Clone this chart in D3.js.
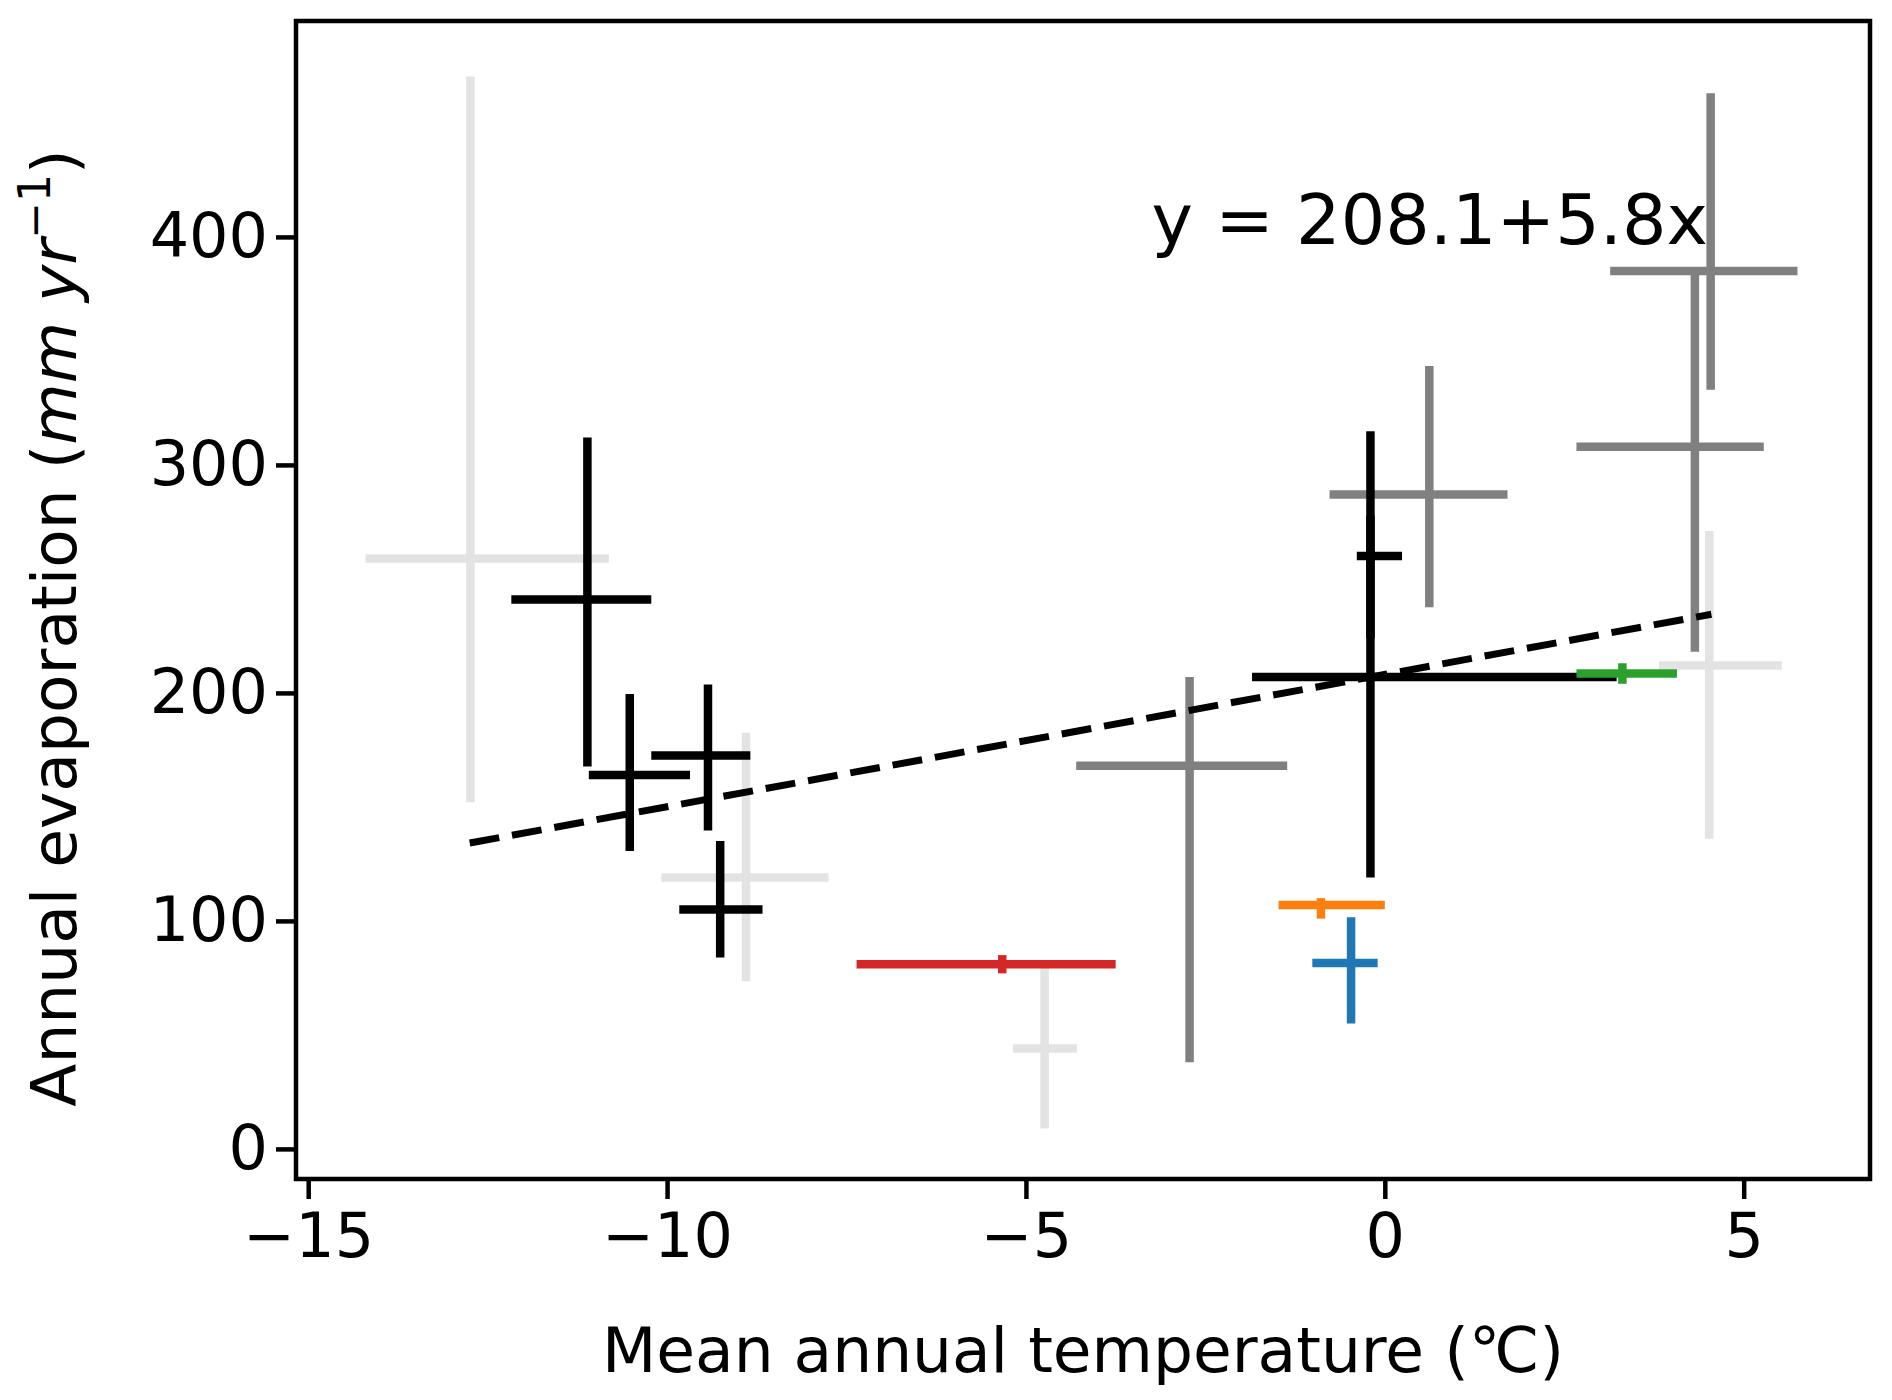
<!DOCTYPE html>
<html><head><meta charset="utf-8">
<script src="https://cdn.jsdelivr.net/npm/d3@7"></script>
<style>body{margin:0;background:#fff}text{font-family:"DejaVu Sans",sans-serif}</style>
</head><body><main></main>
<script>
const W = 1892, H = 1400;
const m = {left: 296, right: 22, top: 21, bottom: 221};

// data: centre, and the ends of each bar
const xVals  = [-12.74, -8.9, -4.74, 4.52, -2.72, 0.62, 4.32, 4.54, -11.11, -10.52, -9.43, -9.26, -0.2, -0.2, -0.47, -0.89, -5.33, 3.31];
const yVals  = [259, 119, 44, 212, 168, 287, 308, 385, 241, 164, 172.5, 105, 207, 260, 81.5, 107, 81, 208.5];
const xLow   = [-14.2, -10.08, -5.18, 3.82, -4.3, -0.77, 2.67, 3.14, -12.17, -11.09, -10.22, -9.83, -1.85, -0.39, -1.01, -1.48, -7.36, 2.67];
const xHigh  = [-10.81, -7.75, -4.29, 5.53, -1.36, 1.71, 5.28, 5.75, -10.22, -9.68, -8.84, -8.67, 3.23, 0.24, -0.1, 0, -3.75, 4.07];
const yLow   = [152, 73.5, 9, 136, 38, 237.6, 218, 333, 167.7, 130.7, 139.7, 84, 119, 224, 55, 101, 77, 204];
const yHigh  = [470.4, 182.5, 80.4, 271, 207, 343.4, 384.7, 463, 312, 199.5, 203.7, 135, 314.8, 277.8, 101.6, 110, 85, 213];
const colors = ['#e3e3e3','#e3e3e3','#e3e3e3','#e3e3e3','#808080','#808080','#808080','#808080',
                '#000','#000','#000','#000','#000','#000','#1f77b4','#ff7f0e','#d62728','#2ca02c'];
const xTicks = [-15, -10, -5, 0, 5];
const yTicks = [0, 100, 200, 300, 400];
const fitA = 208.1, fitB = 5.8, fitRange = [-12.75, 4.55];

const svg = d3.select('main').append('svg').attr('width', W).attr('height', H);
const x = d3.scaleLinear().domain([-15.17, 6.76]).range([m.left, W - m.right]);
const y = d3.scaleLinear().domain([-13.2, 494.7]).range([H - m.bottom, m.top]);

const pts = xVals.map((v, i) => ({x: v, y: yVals[i], x0: xLow[i], x1: xHigh[i], y0: yLow[i], y1: yHigh[i], c: colors[i]}));
const g = svg.append('g');
pts.forEach(d => {
  g.append('line').attr('x1', x(d.x)).attr('x2', x(d.x)).attr('y1', y(d.y0)).attr('y2', y(d.y1))
    .attr('stroke', d.c).attr('stroke-width', 8.5);
  g.append('line').attr('x1', x(d.x0)).attr('x2', x(d.x1)).attr('y1', y(d.y)).attr('y2', y(d.y))
    .attr('stroke', d.c).attr('stroke-width', 8.5);
});

svg.append('line')
  .attr('x1', x(fitRange[0])).attr('y1', y(fitA + fitB * fitRange[0]))
  .attr('x2', x(fitRange[1])).attr('y2', y(fitA + fitB * fitRange[1]))
  .attr('stroke', '#000').attr('stroke-width', 7).attr('stroke-dasharray', '30,13');

svg.append('text').attr('x', x(-3.25)).attr('y', y(397)).attr('font-size', 70).text('y = 208.1+5.8x');

// axes
const xa = svg.append('g').attr('transform', `translate(0,${H - m.bottom})`)
  .call(d3.axisBottom(x).tickValues(xTicks).tickSize(20).tickPadding(14).tickFormat(d => d < 0 ? '\u2212' + Math.abs(d) : d));
const ya = svg.append('g').attr('transform', `translate(${m.left},0)`)
  .call(d3.axisLeft(y).tickValues(yTicks).tickSize(20).tickPadding(8));
[xa, ya].forEach(a => {
  a.select('.domain').remove();
  a.selectAll('line').attr('stroke-width', 4.5);
  a.selectAll('text').attr('font-size', 62).attr('font-family', '"DejaVu Sans",sans-serif').attr('fill', '#000');
});

svg.append('rect').attr('x', m.left).attr('y', m.top).attr('width', W - m.left - m.right)
  .attr('height', H - m.top - m.bottom).attr('fill', 'none').attr('stroke', '#000').attr('stroke-width', 4.5);

svg.append('text').attr('x', (m.left + W - m.right) / 2).attr('y', 1372).attr('text-anchor', 'middle')
  .attr('font-size', 63).text('Mean annual temperature (\u2103)');

const yl = svg.append('text').attr('transform', 'translate(76,628) rotate(-90)').attr('text-anchor', 'middle').attr('font-size', 63);
yl.append('tspan').text('Annual evaporation (');
yl.append('tspan').attr('font-style', 'italic').text('mm yr');
yl.append('tspan').attr('font-size', 44).attr('dy', -26).text('\u22121');
yl.append('tspan').attr('dy', 26).text(')');
</script></body></html>
